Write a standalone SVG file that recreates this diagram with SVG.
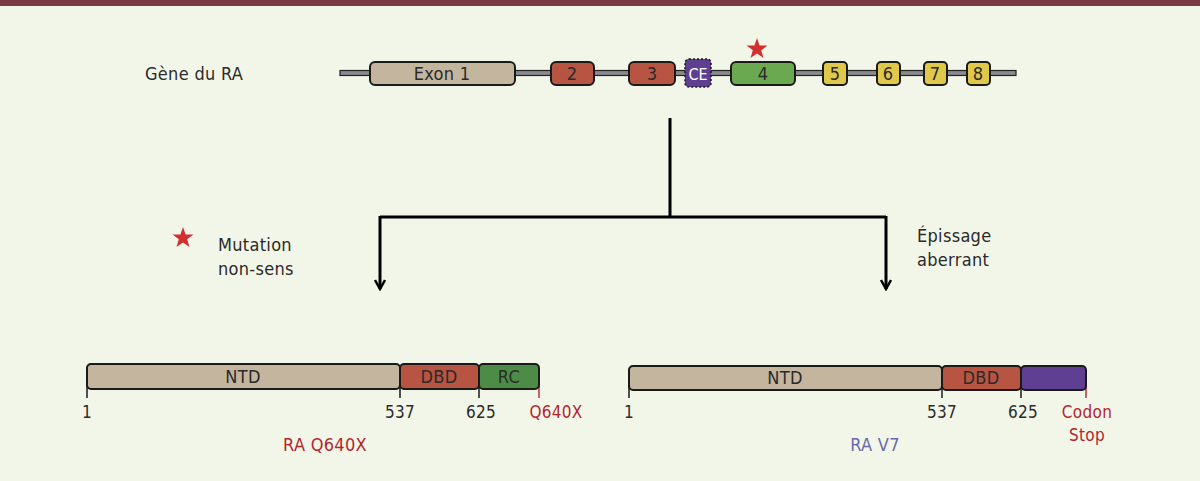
<svg xmlns="http://www.w3.org/2000/svg" width="1200" height="481" viewBox="0 0 1200 481">
<defs>
<style>
.t{font-family:"DejaVu Sans Condensed","Liberation Sans",sans-serif;font-size:18px;fill:#2a2a2a;letter-spacing:0.3px}
.n{font-size:17px}
.c{text-anchor:middle}
.red{fill:#b3262e}
.box{stroke:#1a1a1a;stroke-width:2}
.conn{stroke:#000;stroke-width:3;fill:none}
</style>
<marker id="ah" viewBox="0 0 12 12" refX="10" refY="6" markerWidth="12" markerHeight="12" markerUnits="userSpaceOnUse" orient="auto">
<path d="M1 1 L10 6 L1 11" fill="none" stroke="#000" stroke-width="2.5"/>
</marker>
<symbol id="star" viewBox="-10 -10 20 20" overflow="visible">
<polygon points="0,-10 2.35,-3.2 9.5,-3.1 3.8,1.2 5.9,8.1 0,4 -5.9,8.1 -3.8,1.2 -9.5,-3.1 -2.35,-3.2" fill="#d42e2e"/>
</symbol>
</defs>
<rect width="1200" height="481" fill="#f2f6e8"/>
<rect width="1200" height="6" fill="#7a3a44"/>

<g id="gene">
<text class="t" x="145" y="80">Gène du RA</text>
<rect x="340" y="70.5" width="676" height="5" fill="#8a8a8e" stroke="#222" stroke-width="1.2"/>
<g id="exon1"><rect class="box" x="370" y="62" width="145" height="23" rx="5" fill="#c4b59f"/><text class="t c" x="442" y="80">Exon 1</text></g>
<g id="exon2"><rect class="box" x="551" y="62" width="43" height="23" rx="5" fill="#b85542"/><text class="t c" x="572" y="80">2</text></g>
<g id="exon3"><rect class="box" x="629" y="62" width="46" height="23" rx="5" fill="#b85542"/><text class="t c" x="652" y="80">3</text></g>
<g id="ce"><rect x="685" y="59" width="26" height="28" rx="4" fill="#5e3f92" stroke="#1a1a1a" stroke-width="1.5" stroke-dasharray="2 2"/><text class="t c" x="698" y="80" style="fill:#fff;font-size:16px;letter-spacing:0">CE</text></g>
<g id="exon4"><rect class="box" x="731" y="62" width="64" height="23" rx="5" fill="#6aa94f"/><text class="t c" x="763" y="80">4</text></g>
<g id="exon5"><rect class="box" x="823" y="62" width="24" height="23" rx="4" fill="#e0c94a"/><text class="t c" x="835" y="80">5</text></g>
<g id="exon6"><rect class="box" x="877" y="62" width="23" height="23" rx="4" fill="#e0c94a"/><text class="t c" x="888" y="80">6</text></g>
<g id="exon7"><rect class="box" x="924" y="62" width="23" height="23" rx="4" fill="#e0c94a"/><text class="t c" x="935" y="80">7</text></g>
<g id="exon8"><rect class="box" x="967" y="62" width="23" height="23" rx="4" fill="#e0c94a"/><text class="t c" x="978" y="80">8</text></g>
<use href="#star" x="746" y="38" width="22" height="22"/>
</g>

<g id="connectors">
<path class="conn" d="M670 118 V217"/>
<path class="conn" d="M380 217 H886"/>
<path class="conn" d="M380 216 V289" marker-end="url(#ah)"/>
<path class="conn" d="M886 216 V289" marker-end="url(#ah)"/>
</g>

<g id="legend-mutation">
<use href="#star" x="172" y="227" width="22" height="22"/>
<text class="t" x="218" y="251">Mutation</text>
<text class="t" x="218" y="275">non-sens</text>
</g>
<g id="legend-splice">
<text class="t" x="917" y="242">Épissage</text>
<text class="t" x="917" y="266">aberrant</text>
</g>

<g id="protein-q640x">
<g stroke="#1a1a1a" stroke-width="1.5">
<line x1="87" y1="385" x2="87" y2="398"/>
<line x1="400" y1="385" x2="400" y2="398"/>
<line x1="479" y1="385" x2="479" y2="398"/>
</g>
<line x1="539" y1="385" x2="539" y2="398" stroke="#c0303a" stroke-width="1.5"/>
<rect class="box" x="87" y="364" width="313" height="25" rx="4" fill="#c4b59f"/>
<rect class="box" x="400" y="364" width="79" height="25" rx="4" fill="#b85542"/>
<rect class="box" x="479" y="364" width="60" height="25" rx="4" fill="#4d8c46"/>
<text class="t c" x="243" y="383">NTD</text>
<text class="t c" x="439" y="383">DBD</text>
<text class="t c" x="509" y="383">RC</text>
<text class="t c n" x="87" y="418">1</text>
<text class="t c n" x="400" y="418">537</text>
<text class="t c n" x="481" y="418">625</text>
<text class="t c n red" x="556" y="418">Q640X</text>
<text class="t c red" x="325" y="451">RA Q640X</text>
</g>

<g id="protein-v7">
<g stroke="#1a1a1a" stroke-width="1.5">
<line x1="629" y1="385" x2="629" y2="398"/>
<line x1="942" y1="385" x2="942" y2="398"/>
<line x1="1021" y1="385" x2="1021" y2="398"/>
</g>
<line x1="1086" y1="385" x2="1086" y2="398" stroke="#c0303a" stroke-width="1.5"/>
<rect class="box" x="629" y="366" width="313" height="24" rx="4" fill="#c4b59f"/>
<rect class="box" x="942" y="366" width="79" height="24" rx="4" fill="#b85542"/>
<rect class="box" x="1021" y="366" width="65" height="24" rx="4" fill="#5e3f92"/>
<text class="t c" x="785" y="384">NTD</text>
<text class="t c" x="981" y="384">DBD</text>
<text class="t c n" x="629" y="418">1</text>
<text class="t c n" x="942" y="418">537</text>
<text class="t c n" x="1023" y="418">625</text>
<text class="t c n red" x="1087" y="418">Codon</text>
<text class="t c n red" x="1087" y="441">Stop</text>
<text class="t c" x="875" y="451" style="fill:#6a68a8">RA V7</text>
</g>
</svg>
